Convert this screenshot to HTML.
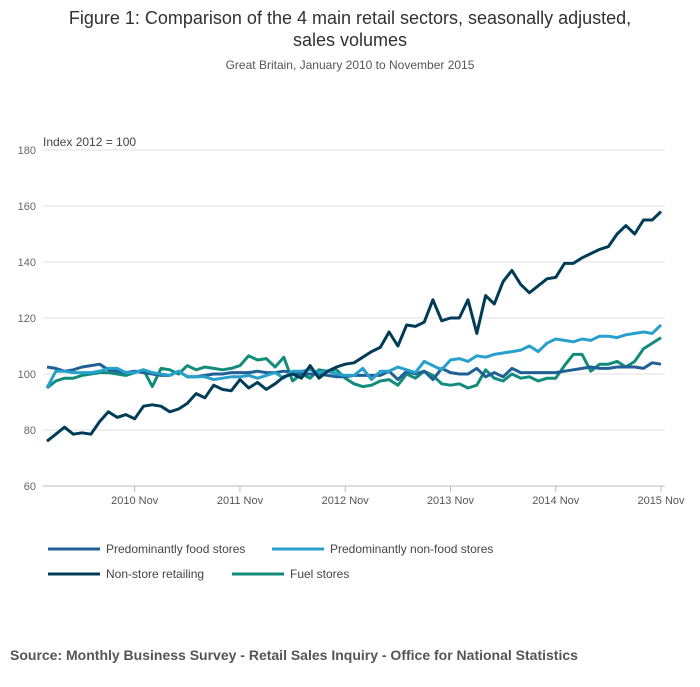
<!DOCTYPE html>
<html><head><meta charset="utf-8"><style>
body{margin:0;background:#fff;font-family:"Liberation Sans",sans-serif}
</style></head><body>
<svg width="700" height="682" xmlns="http://www.w3.org/2000/svg" font-family="Liberation Sans, sans-serif">
<text x="350" y="24" text-anchor="middle" font-size="18" fill="#323132">Figure 1: Comparison of the 4 main retail sectors, seasonally adjusted,</text>
<text x="350" y="46" text-anchor="middle" font-size="18" fill="#323132">sales volumes</text>
<text x="350" y="69" text-anchor="middle" font-size="12" fill="#555">Great Britain, January 2010 to November 2015</text>
<text x="43" y="146" font-size="12" fill="#444">Index 2012 = 100</text>
<g id="grid"></g><g id="series"></g>
<g font-size="12" fill="#444">
<line x1="48" y1="549" x2="100" y2="549" stroke="#206095" stroke-width="3"/><text x="106" y="553">Predominantly food stores</text>
<line x1="272" y1="549" x2="324" y2="549" stroke="#27a0cc" stroke-width="3"/><text x="330" y="553">Predominantly non-food stores</text>
<line x1="48" y1="574" x2="100" y2="574" stroke="#003c57" stroke-width="3"/><text x="106" y="578">Non-store retailing</text>
<line x1="232" y1="574" x2="284" y2="574" stroke="#118c7b" stroke-width="3"/><text x="290" y="578">Fuel stores</text>
</g>
<text x="10" y="660" font-size="14" font-weight="bold" fill="#555">Source: Monthly Business Survey - Retail Sales Inquiry - Office for National Statistics</text>
</svg>
<script>
const yTicks=[60,80,100,120,140,160,180];
const xTickMonths=[10,22,34,46,58,70];
const xTickLabels=["2010 Nov","2011 Nov","2012 Nov","2013 Nov","2014 Nov","2015 Nov"];
const food=[102.5,102,101,101.5,102.5,103,103.5,101.5,101,100.5,101,100.5,100,99.5,99.5,101,99,99,99.5,100,100,100.5,100.5,100.5,101,100.5,100.5,101,100.5,100,100,100,99.5,99,99,99.5,99.5,99.5,99.5,101,98,101,100,101,98,102,100.5,100,100,102,99,100.5,99,102,100.5,100.5,100.5,100.5,100.5,101,101.5,102,102.5,102,102,102.5,102.5,102.5,102,104,103.5];
const nonFood=[95,101,101,100.5,100.5,100.5,101,102,102,100.5,100.5,101.5,100.5,100,99.5,101,99,99,99,98,98.5,99,99,99.5,98.5,99.5,100.5,98.5,101,101,101.5,100.5,101,100,99.5,99.5,102,98,101,101,102.5,101.5,100.5,104.5,103,101.5,105,105.5,104.5,106.5,106,107,107.5,108,108.5,110,108,111,112.5,112,111.5,112.5,112,113.5,113.5,113,114,114.5,115,114.5,117.5];
const nonStore=[76,78.5,81,78.5,79,78.5,83,86.5,84.5,85.5,84,88.5,89,88.5,86.5,87.5,89.5,93,91.5,96,94.5,94,98,95,97,94.5,96.5,99,100,98.5,103,98.5,101,102.5,103.5,104,106,108,109.5,115,110,117.5,117,118.5,126.5,119,120,120,126.5,114.5,128,125,133,137,132,129,131.5,134,134.5,139.5,139.5,141.5,143,144.5,145.5,150,153,150,155,155,158];
const fuel=[95,97.5,98.5,98.5,99.5,100,100.5,100.5,100,99.5,100.5,101.5,95.5,102,101.5,100,103,101.5,102.5,102,101.5,102,103,106.5,105,105.5,102.5,106,97.5,100,98.5,101.5,101,101.5,98.5,96.5,95.5,96,97.5,98,96,100,98.5,101,99.5,96.5,96,96.5,95,96,101.5,98.5,97.5,100,98.5,99,97.5,98.5,98.5,103,107,107,101,103.5,103.5,104.5,102.5,104.5,109,111,113];
const NS="http://www.w3.org/2000/svg";
const x=i=>47+i*(661-47)/70;
const y=v=>486-(v-60)*(336/120);
const grid=document.getElementById('grid');
yTicks.forEach(t=>{
 const l=document.createElementNS(NS,'line');
 l.setAttribute('x1',43);l.setAttribute('x2',665);l.setAttribute('y1',y(t));l.setAttribute('y2',y(t));
 l.setAttribute('stroke',t===60?'#bbb':'#e0e0e0');l.setAttribute('stroke-width',1);
 
 
 grid.appendChild(l);
 const tx=document.createElementNS(NS,'text');
 tx.setAttribute('x',36);tx.setAttribute('y',y(t)+4);tx.setAttribute('font-size','11');tx.setAttribute('fill','#666');tx.setAttribute('text-anchor','end');
 tx.textContent=t;
 
 
 grid.appendChild(tx);
});
xTickMonths.forEach((m,i)=>{
 const l=document.createElementNS(NS,'line');
 l.setAttribute('x1',x(m));l.setAttribute('x2',x(m));l.setAttribute('y1',486);l.setAttribute('y2',492);
 l.setAttribute('stroke','#bbb');
 
 
 grid.appendChild(l);
 const tx=document.createElementNS(NS,'text');
 tx.setAttribute('x',x(m));tx.setAttribute('y',504);tx.setAttribute('font-size','11');tx.setAttribute('fill','#555');tx.setAttribute('text-anchor','middle');
 tx.textContent=xTickLabels[i];
 
 
 grid.appendChild(tx);
});
const g=document.getElementById('series');
[[fuel,'#118c7b','line-fuel'],[food,'#206095','line-food'],[nonFood,'#27a0cc','line-nonfood'],[nonStore,'#003c57','line-nonstore']].forEach(([d,c,n])=>{
 const p=document.createElementNS(NS,'polyline');
 p.setAttribute('points',d.map((v,i)=>x(i).toFixed(1)+','+y(v).toFixed(1)).join(' '));
 p.setAttribute('fill','none');p.setAttribute('stroke',c);p.setAttribute('stroke-width',3);p.setAttribute('stroke-linejoin','round');
 
 
 g.appendChild(p);
});
</script>
</body></html>
